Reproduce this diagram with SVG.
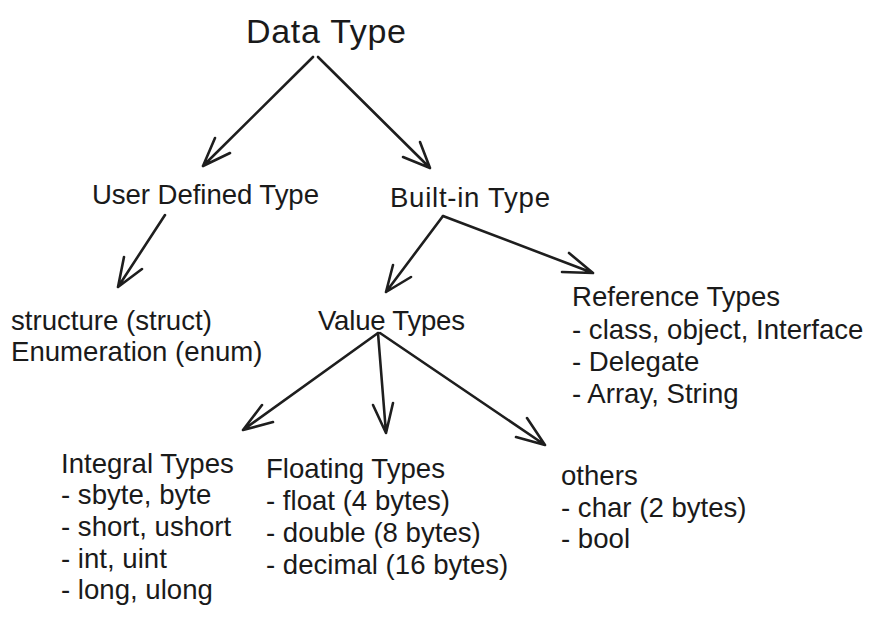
<svg xmlns="http://www.w3.org/2000/svg" width="876" height="618" viewBox="0 0 876 618">
<style>
text{font-family:"Liberation Sans",Arial,Helvetica,sans-serif;fill:#1a1a1a;font-size:27.6px}
.title{font-size:34px}
.c{fill:none;stroke:#1e1e1e;stroke-width:2.6;stroke-linecap:round;stroke-linejoin:round}
</style>
<rect width="876" height="618" fill="#ffffff"/>
<g id="connectors">
<path class="c" d="M313,57 L203,166 M215,138 L203,166 L230,153"/>
<path class="c" d="M318,57 L430,168 M420,142 L430,168 L403,157"/>
<path class="c" d="M165,215 L118,287 M124,257 L118,287 L142,269"/>
<path class="c" d="M443,216 L386,292 M393,265 L386,292 L411,277"/>
<path class="c" d="M443,216 L593,273 M569,253 L593,273 L562,272"/>
<path class="c" d="M378,333 L243,430 M262,405 L243,430 L273,422"/>
<path class="c" d="M378,333 L386,433 M373,405 L386,433 L393,403"/>
<path class="c" d="M380,333 L545,445 M527,418 L545,445 L516,437"/>
</g>
<g id="data-type"><text class="title" x="246" y="43" textLength="160">Data Type</text></g>
<g id="user-defined"><text x="92" y="204" textLength="227">User Defined Type</text></g>
<g id="built-in"><text x="390" y="207" textLength="160">Built-in Type</text></g>
<g id="user-defined-items">
<text x="11" y="330">structure (struct)</text>
<text x="11" y="361">Enumeration (enum)</text>
</g>
<g id="value-types"><text x="318" y="330" textLength="147">Value Types</text></g>
<g id="reference-types">
<text x="572" y="306">Reference Types</text>
<text x="572" y="339">- class, object, Interface</text>
<text x="572" y="371">- Delegate</text>
<text x="572" y="403">- Array, String</text>
</g>
<g id="integral-types">
<text x="61" y="473">Integral Types</text>
<text x="61" y="504">- sbyte, byte</text>
<text x="61" y="536">- short, ushort</text>
<text x="61" y="568">- int, uint</text>
<text x="61" y="599">- long, ulong</text>
</g>
<g id="floating-types">
<text x="266" y="478">Floating Types</text>
<text x="266" y="510">- float (4 bytes)</text>
<text x="266" y="542">- double (8 bytes)</text>
<text x="266" y="574">- decimal (16 bytes)</text>
</g>
<g id="others">
<text x="561" y="485">others</text>
<text x="561" y="517">- char (2 bytes)</text>
<text x="561" y="548">- bool</text>
</g>
</svg>
